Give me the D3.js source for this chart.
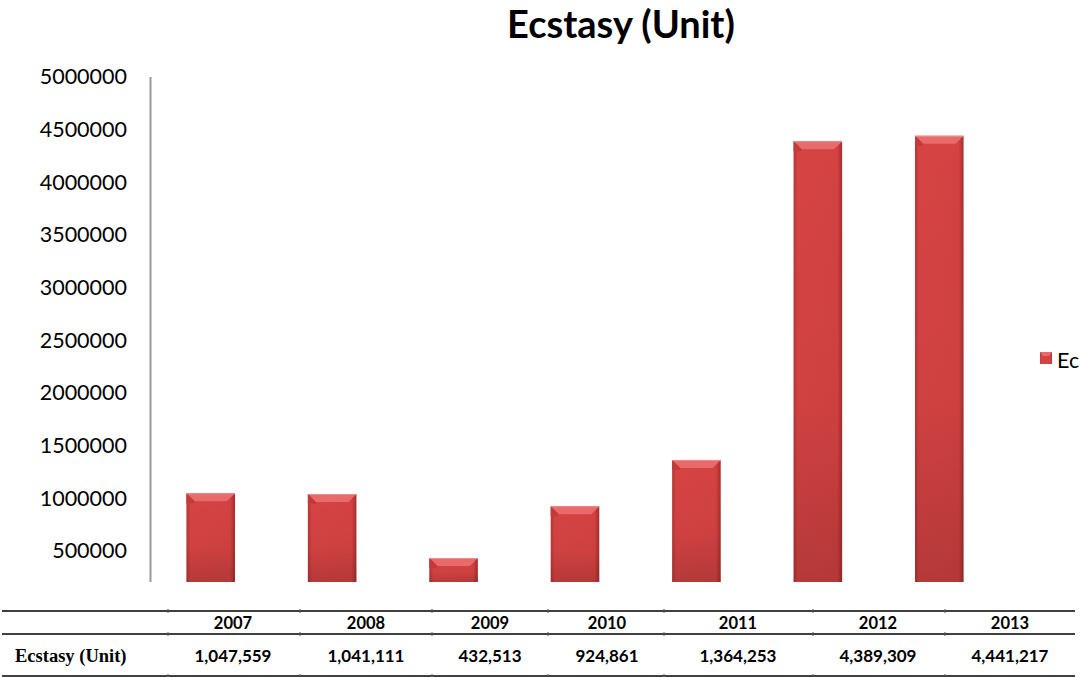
<!DOCTYPE html>
<html><head><meta charset="utf-8">
<script src="https://cdn.jsdelivr.net/npm/d3@7"></script>
<style>body{margin:0;background:#fff}svg{display:block}</style>
</head><body>
<script>
const years = ["2007","2008","2009","2010","2011","2012","2013"];
const values = [1047559,1041111,432513,924861,1364253,4389309,4441217];
const tickValues = [500000,1000000,1500000,2000000,2500000,3000000,3500000,4000000,4500000,5000000];
const valueLabels = ["1,047,559","1,041,111","432,513","924,861","1,364,253","4,389,309","4,441,217"];
const seriesName = "Ecstasy (Unit)";
const legendLabel = "Ec";

const W=1081,H=677;
const svg=d3.select("body").append("svg").attr("width",W).attr("height",H);
const defs=svg.append("defs");
const g1=defs.append("linearGradient").attr("id","barH").attr("x1",0).attr("x2",1).attr("y1",0).attr("y2",0);
g1.append("stop").attr("offset","0").attr("stop-color","#b53434");
g1.append("stop").attr("offset","0.08").attr("stop-color","#d64343");
g1.append("stop").attr("offset","0.9").attr("stop-color","#d44242");
g1.append("stop").attr("offset","1").attr("stop-color","#a52d2d");
const g2=defs.append("linearGradient").attr("id","barV").attr("x1",0).attr("x2",0).attr("y1",0).attr("y2",1);
g2.append("stop").attr("offset","0").attr("stop-color","#000").attr("stop-opacity",0);
g2.append("stop").attr("offset","0.6").attr("stop-color","#000").attr("stop-opacity",0.03);
g2.append("stop").attr("offset","1").attr("stop-color","#000").attr("stop-opacity",0.15);
defs.append("clipPath").attr("id","plotClip").append("rect").attr("x",150).attr("y",60).attr("width",900).attr("height",522);

const FONT="Lato, 'Open Sans', sans-serif";
// scales
const y=d3.scaleLinear().domain([500000,5000000]).range([551,77]);
const x=d3.scaleBand().domain(years).range([150,1000]).paddingInner(0.6).paddingOuter(0.3);

// title
svg.append("text").attr("x",621).attr("y",38).attr("text-anchor","middle")
  .attr("font-family",FONT).attr("font-weight","bold").attr("font-size",38)
  .text(seriesName);

// y axis
const yAxis=d3.axisLeft(y).tickValues(tickValues).tickSize(0).tickPadding(23).tickFormat(d3.format("d"));
const ga=svg.append("g").attr("transform","translate(150,0)").call(yAxis);
ga.select(".domain").remove();
ga.selectAll("text").attr("font-family",FONT).attr("font-size",21.5).attr("fill","#000");
svg.append("line").attr("x1",150.5).attr("x2",150.5).attr("y1",77).attr("y2",582).attr("stroke","#9a9a9a").attr("stroke-width",2);

// bars
const bars=svg.append("g").attr("clip-path","url(#plotClip)");
const y0=y(0);
years.forEach((yr,i)=>{
  const bx=x(yr), bw=x.bandwidth(), top=y(values[i]);
  const grp=bars.append("g");
  grp.append("rect").attr("x",bx).attr("y",top).attr("width",bw).attr("height",y0-top).attr("fill","url(#barH)");
  grp.append("rect").attr("x",bx).attr("y",top).attr("width",bw).attr("height",582-top).attr("fill","url(#barV)");
  const b=8;
  grp.append("polygon").attr("points",[[bx,top],[bx+bw,top],[bx+bw-b,top+b],[bx+b,top+b]].map(p=>p.join(",")).join(" "))
    .attr("fill","#e86a6a");
  grp.append("polygon").attr("points",[[bx,top],[bx+b,top+b],[bx+b,top+b+2],[bx,top+b+2]].map(p=>p.join(",")).join(" "))
    .attr("fill","#c23a3a");
  grp.append("line").attr("x1",bx).attr("x2",bx+bw).attr("y1",top+0.5).attr("y2",top+0.5).attr("stroke","#f08a8a").attr("stroke-width",1);
});

// legend
const lg=svg.append("g");
lg.append("rect").attr("x",1040).attr("y",352).attr("width",12).attr("height",12).attr("fill","url(#barH)");
lg.append("polygon").attr("points","1040,352 1052,352 1049,356 1043,356").attr("fill","#e86a6a");
lg.append("text").attr("x",1057).attr("y",368).attr("font-family",FONT).attr("font-size",21.5).text(legendLabel);

// table
const colEdges=[168,300,432,548,664,813,945];
const cx=d3.scaleOrdinal().domain(years).range([233,366,490,607,738,878,1010]);
const tb=svg.append("g");
[611,634,676].forEach(yy=>tb.append("line").attr("x1",2).attr("x2",1075).attr("y1",yy).attr("y2",yy).attr("stroke","#000").attr("stroke-width",1.5));
colEdges.forEach(xx=>{
  [611,634,676].forEach(yy=>tb.append("line").attr("x1",xx).attr("x2",xx).attr("y1",yy-2).attr("y2",yy+2).attr("stroke","#555").attr("stroke-width",1));
});
years.forEach((yr,i)=>{
  tb.append("text").attr("x",cx(yr)).attr("y",629).attr("text-anchor","middle")
    .attr("font-family",FONT).attr("font-weight","bold").attr("font-size",16.5).text(yr);
  tb.append("text").attr("x",cx(yr)).attr("y",662).attr("text-anchor","middle")
    .attr("font-family",FONT).attr("font-weight","bold").attr("font-size",17).text(valueLabels[i]);
});
tb.append("text").attr("x",15).attr("y",662).attr("font-family","'Liberation Serif', 'Times New Roman', serif")
  .attr("font-weight","bold").attr("font-size",18.5).text(seriesName);
</script>
</body></html>
